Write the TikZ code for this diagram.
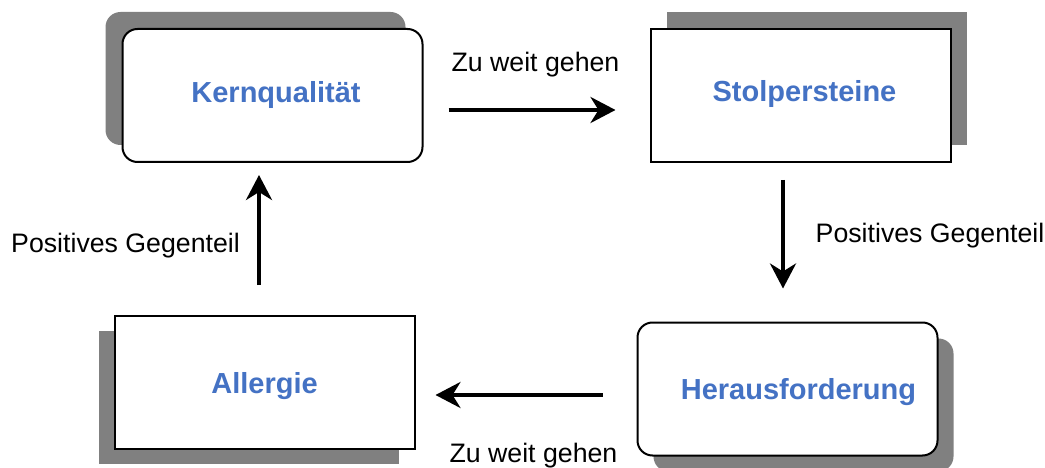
\documentclass[tikz,border=0pt]{standalone}
\usepackage{fontspec}
\setmainfont{Liberation Sans}
\usetikzlibrary{arrows.meta,shadows}
\definecolor{txtblue}{HTML}{4472C4}
\definecolor{shadowgray}{HTML}{808080}
\begin{document}
\begin{tikzpicture}[x=1pt,y=-1pt,
  box/.style={draw=black, line width=2pt, fill=white, minimum width=300pt, minimum height=133pt,
    inner sep=0pt, text height=21pt, text depth=0pt,
    font=\fontsize{29}{33}\selectfont\bfseries, text=txtblue},
  rbox/.style={box, rounded corners=15pt},
  lbl/.style={font=\fontsize{26.7}{30}\selectfont, anchor=base, inner sep=0pt},
  arr/.style={line width=4pt, -{Stealth[length=25pt,width=26pt,inset=8pt]}}]
\useasboundingbox (0,0) rectangle (1045,468);

\node[rbox, text depth=6pt, general shadow={fill=shadowgray, shadow xshift=-17pt, shadow yshift=17pt}]
  (k) at (272.5,95.5) {\hspace*{7pt}Kernqualität};
\node[box, text depth=8pt, general shadow={fill=shadowgray, shadow xshift=16pt, shadow yshift=17pt}]
  (s) at (800.5,95.5) {\hspace*{8pt}Stolpersteine};
\node[box, general shadow={fill=shadowgray, shadow xshift=-16pt, shadow yshift=-15pt}]
  (a) at (264.5,382.5) {Allergie};
\node[rbox, general shadow={fill=shadowgray, shadow xshift=16pt, shadow yshift=-16pt}]
  (h) at (787.5,389) {\hspace*{22pt}Herausforderung};

\draw[arr] ([shift={(25,14.5)}]k.east) -- ([shift={(-34,14.5)}]s.west);
\draw[arr] ([shift={(-17.5,17)}]s.south) -- ([shift={(-4.5,-33)}]h.north);
\draw[arr] ([shift={(-34,6)}]h.west) -- ([shift={(20,12.5)}]a.east);
\draw[arr] ([shift={(-5.5,-30)}]a.north) -- ([shift={(-13.5,12)}]k.south);

\node[lbl] (l1) at (535.5,72) {Zu weit gehen};
\node[lbl] (l2) at (930,242) {Positives Gegenteil};
\node[lbl] (l3) at (533.5,462) {Zu weit gehen};
\node[lbl] (l4) at (125.5,252) {Positives Gegenteil};
\end{tikzpicture}
\end{document}
